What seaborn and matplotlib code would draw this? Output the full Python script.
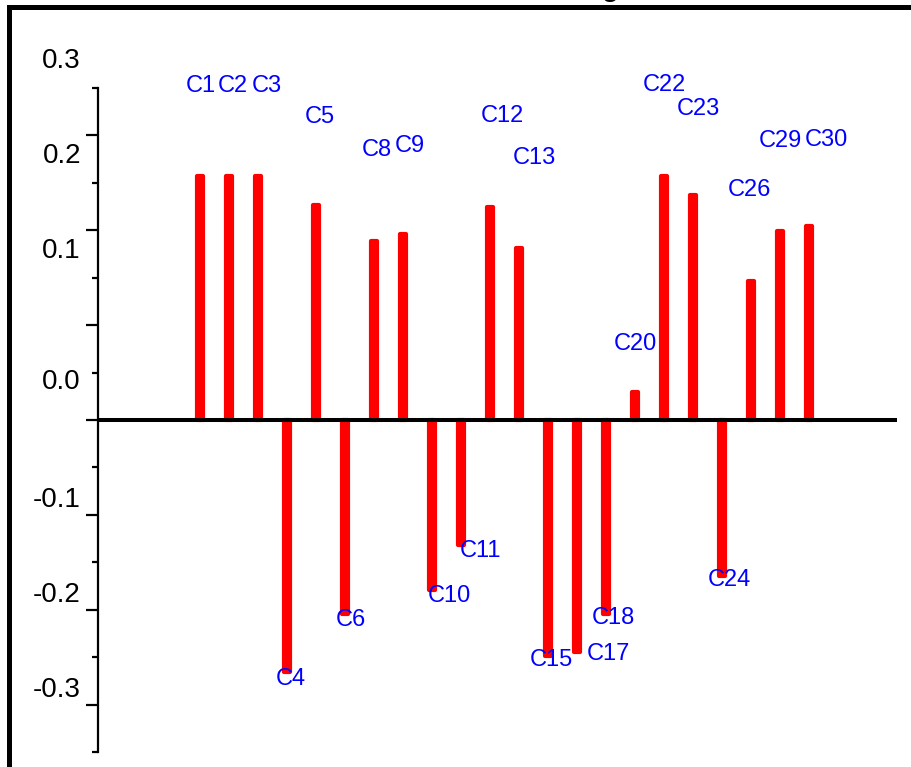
import matplotlib.pyplot as plt
import pandas as pd
import seaborn as sns
from matplotlib.patches import Rectangle
from matplotlib.ticker import FixedLocator

# loadings
names = ["C1", "C2", "C3", "C4", "C5", "C6", "C8", "C9", "C10", "C11", "C12",
         "C13", "C15", "C17", "C18", "C20", "C22", "C23", "C24", "C26", "C29", "C30"]
loadings = [0.257, 0.257, 0.257, -0.266, 0.227, -0.205, 0.189, 0.196, -0.179, -0.132, 0.225,
            0.181, -0.249, -0.245, -0.205, 0.030, 0.257, 0.237, -0.164, 0.147, 0.199, 0.204]
ytick_vals = [0.3, 0.2, 0.1, 0.0, -0.1, -0.2, -0.3]
ytick_text = ["0.3", "0.2", "0.1", "0.0", "-0.1", "-0.2", "-0.3"]

# label nudges in pixels (text layout only)
label_dx = [1, 4, 9, 4, 4, 6, 3, 7, 17, 19, 12, 15, 3, 31, 7, 0, 0, 5, 7, -2, 0, 17]
label_dy = [90, 90, 90, -7, 88, -6, 91, 88, -6, -6, 91, 90, -4, -2, -4, 48, 91, 86, -4, 91, 90, 86]

df = pd.DataFrame({"name": names, "loading": loadings})

sns.set_style("white")
plt.rcParams['font.family'] = ['Liberation Sans', 'DejaVu Sans']

fig = plt.figure(figsize=(9.12, 7.67), dpi=100)
ax = fig.add_axes([98 / 912, 1 - 752 / 767, (897 - 98) / 912, (752 - 88) / 767])

sns.barplot(data=df, x="name", y="loading", order=names, color="red",
            saturation=1, width=0.19, ax=ax)
# thick round-joined edge gives the rounded stick ends
for p in ax.patches:
    p.set_edgecolor("red")
    p.set_linewidth(3)
    p.set_joinstyle("round")

ax.axhline(0, color="black", lw=2.9, zorder=5)

for i, (n, v) in enumerate(zip(names, loadings)):
    ax.annotate(n, xy=(i, v), xytext=(label_dx[i] * 0.72, label_dy[i] * 0.72),
                textcoords="offset points", ha="center", va="center",
                color="blue", fontsize=17, zorder=6)

ax.set_xlim(-3.52, 24.03)
ax.set_ylim(-0.35, 0.35)
ax.set_xlabel("")
ax.set_ylabel("")
ax.set_xticks([])

for s in ["top", "right", "bottom"]:
    ax.spines[s].set_visible(False)
ax.spines["left"].set_linewidth(1.6)
ax.spines["left"].set_color("black")

ax.yaxis.set_major_locator(FixedLocator(ytick_vals))
ax.yaxis.set_minor_locator(FixedLocator([-0.35, -0.25, -0.15, -0.05, 0.05, 0.15, 0.25, 0.35]))
ax.tick_params(axis="y", which="major", length=9, width=1.6, color="black",
               direction="out", labelleft=False, left=True)
ax.tick_params(axis="y", which="minor", length=4.5, width=1.6, color="black",
               direction="out", left=True)

# y labels sit a bit above their ticks, as in the original
for t, txt in zip(ytick_vals, ytick_text):
    up = 74 if t > 0 else (38 if t == 0 else 15)
    ax.annotate(txt, xy=(0, t), xycoords=ax.get_yaxis_transform(),
                xytext=(-17 * 0.72, up * 0.72), textcoords="offset points",
                ha="right", va="center", fontsize=20, color="black",
                annotation_clip=False)

# outer frame, cut off at right and bottom
fig.patches.append(Rectangle((9.5 / 912, -2 / 767), 1.05, (769 - 7) / 767,
                             transform=fig.transFigure, fill=False,
                             edgecolor="black", lw=3.6))

# title mostly cut off above the frame
fig.text(619 / 912, 1 + 4 / 767, "Loading", ha="right", va="baseline",
         fontsize=20, fontweight="bold", color="black")

plt.savefig("out.png", dpi=100)
plt.close()
